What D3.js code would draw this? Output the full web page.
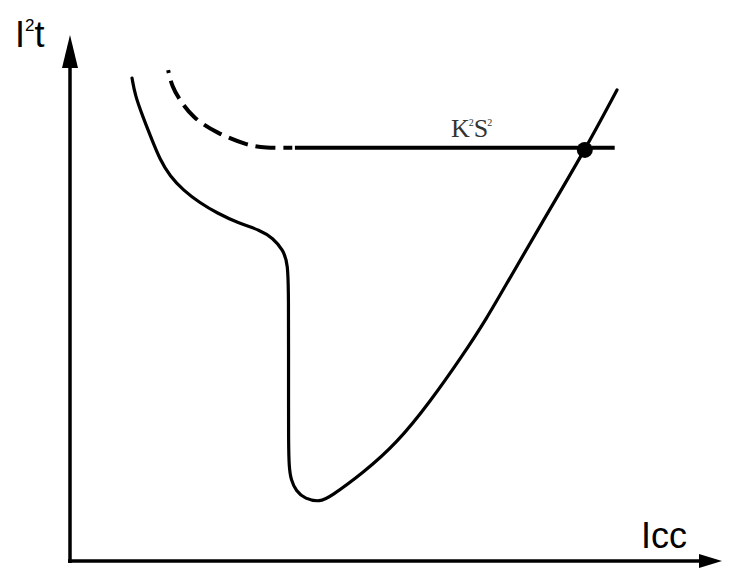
<!DOCTYPE html>
<html>
<head>
<meta charset="utf-8">
<script src="https://cdn.jsdelivr.net/npm/d3@7"></script>
<style>
  html, body { margin: 0; padding: 0; background: #fff; }
  svg { display: block; }
</style>
</head>
<body>
<svg id="chart" width="730" height="569"></svg>
<script>
// ---- Data (schematic; units arbitrary 0..100) ----
const curveIcc  = [9.54, 10.0, 11.23, 12.31, 13.85, 15.38, 17.38, 20.0, 22.62, 25.85, 29.23, 31.23, 32.77, 33.54, 33.62, 33.62, 33.62, 33.62, 33.69, 34.0, 34.77, 36.15, 38.46, 40.0, 45.08, 50.31, 55.38, 60.46, 64.15, 67.23, 72.31, 79.23, 84.15];
const curveI2t  = [92.0, 88.76, 84.57, 81.14, 76.38, 73.33, 70.67, 68.19, 66.29, 64.38, 63.05, 61.52, 59.24, 56.76, 49.71, 40.19, 30.67, 23.05, 17.9, 15.43, 13.33, 11.81, 11.24, 12.19, 16.76, 22.48, 30.29, 39.24, 46.29, 52.95, 63.81, 78.29, 89.71];

const dashIcc   = [15.1, 15.7, 16.9, 18.9, 22.6, 27.2, 30.0, 34.2];
const dashI2t   = [93.5, 90.3, 87.8, 84.4, 81.5, 79.2, 78.7, 78.7];

const limitIcc  = [34.6, 83.8];   // K²S² horizontal line extent
const limitI2t  = 78.7;

const pointIcc  = 79.2;           // intersection marker
const pointI2t  = 78.3;

const axisLabels = { x: "Icc", y: ["I", "2", "t"] };
const limitLabel = ["K", "2", "S", "2"];

// ---- Chart ----
const svg = d3.select("#chart");
const x = d3.scaleLinear().domain([0, 100]).range([70, 720]);
const y = d3.scaleLinear().domain([0, 100]).range([561, 36]);

// axes (no ticks), drawn with d3 axes
const xAxis = svg.append("g")
  .attr("transform", `translate(0,${y(0)})`)
  .call(d3.axisBottom(x).tickValues([]).tickSizeOuter(0));
xAxis.select(".domain").attr("stroke", "#000").attr("stroke-width", 3.5)
  .attr("d", `M${x(0) - 2},0H${x(100) - 20}`);

const yAxis = svg.append("g")
  .attr("transform", `translate(${x(0)},0)`)
  .call(d3.axisLeft(y).tickValues([]).tickSizeOuter(0));
yAxis.select(".domain").attr("stroke", "#000").attr("stroke-width", 3.5)
  .attr("d", `M0,${y(0) + 2}V${y(100) + 30}`);

// arrow heads
svg.append("path")
  .attr("d", `M${x(100) + 2},${y(0)} L${x(100) - 21},${y(0) - 7} L${x(100) - 21},${y(0) + 7} Z`)
  .attr("fill", "#000");
svg.append("path")
  .attr("d", `M${x(0)},${y(100) - 1} L${x(0) - 8},${y(100) + 32} L${x(0) + 8},${y(100) + 32} Z`)
  .attr("fill", "#000");

// axis labels
const yl = svg.append("text")
  .attr("x", 15).attr("y", 47)
  .attr("font-family", "Liberation Sans, Arial, sans-serif")
  .attr("font-size", 36).attr("fill", "#000");
yl.append("tspan").text(axisLabels.y[0]);
yl.append("tspan").attr("font-size", 17).attr("dy", -16).text(axisLabels.y[1]);
yl.append("tspan").attr("dy", 16).text(axisLabels.y[2]);

svg.append("text")
  .attr("x", 641).attr("y", 548)
  .attr("font-family", "Liberation Sans, Arial, sans-serif")
  .attr("font-size", 36).attr("fill", "#000")
  .text(axisLabels.x);

// curves
const line = d3.line().x(d => x(d[0])).y(d => y(d[1])).curve(d3.curveBasis);
svg.append("path")
  .datum(d3.zip(curveIcc, curveI2t))
  .attr("d", line)
  .attr("fill", "none").attr("stroke", "#000").attr("stroke-width", 3.2)
  .attr("stroke-linecap", "round");

svg.append("path")
  .datum(d3.zip(dashIcc, dashI2t))
  .attr("d", line)
  .attr("fill", "none").attr("stroke", "#000").attr("stroke-width", 4)
  .attr("stroke-dasharray", "20 8").attr("stroke-dashoffset", 17);

// K²S² line
svg.append("line")
  .attr("x1", x(limitIcc[0])).attr("x2", x(limitIcc[1]))
  .attr("y1", y(limitI2t)).attr("y2", y(limitI2t))
  .attr("stroke", "#000").attr("stroke-width", 4);

const kl = svg.append("text")
  .attr("x", 451).attr("y", 137)
  .attr("font-family", "Liberation Serif, Times New Roman, serif")
  .attr("font-size", 26).attr("fill", "#333");
kl.append("tspan").text(limitLabel[0]);
kl.append("tspan").attr("font-size", 10).attr("dy", -11).attr("dx", -1).text(limitLabel[1]);
kl.append("tspan").attr("dy", 11).text(limitLabel[2]);
kl.append("tspan").attr("font-size", 10).attr("dy", -11).attr("dx", -1).text(limitLabel[3]);

// intersection dot
svg.append("circle")
  .attr("cx", x(pointIcc)).attr("cy", y(pointI2t)).attr("r", 8)
  .attr("fill", "#000");
</script>
</body>
</html>
